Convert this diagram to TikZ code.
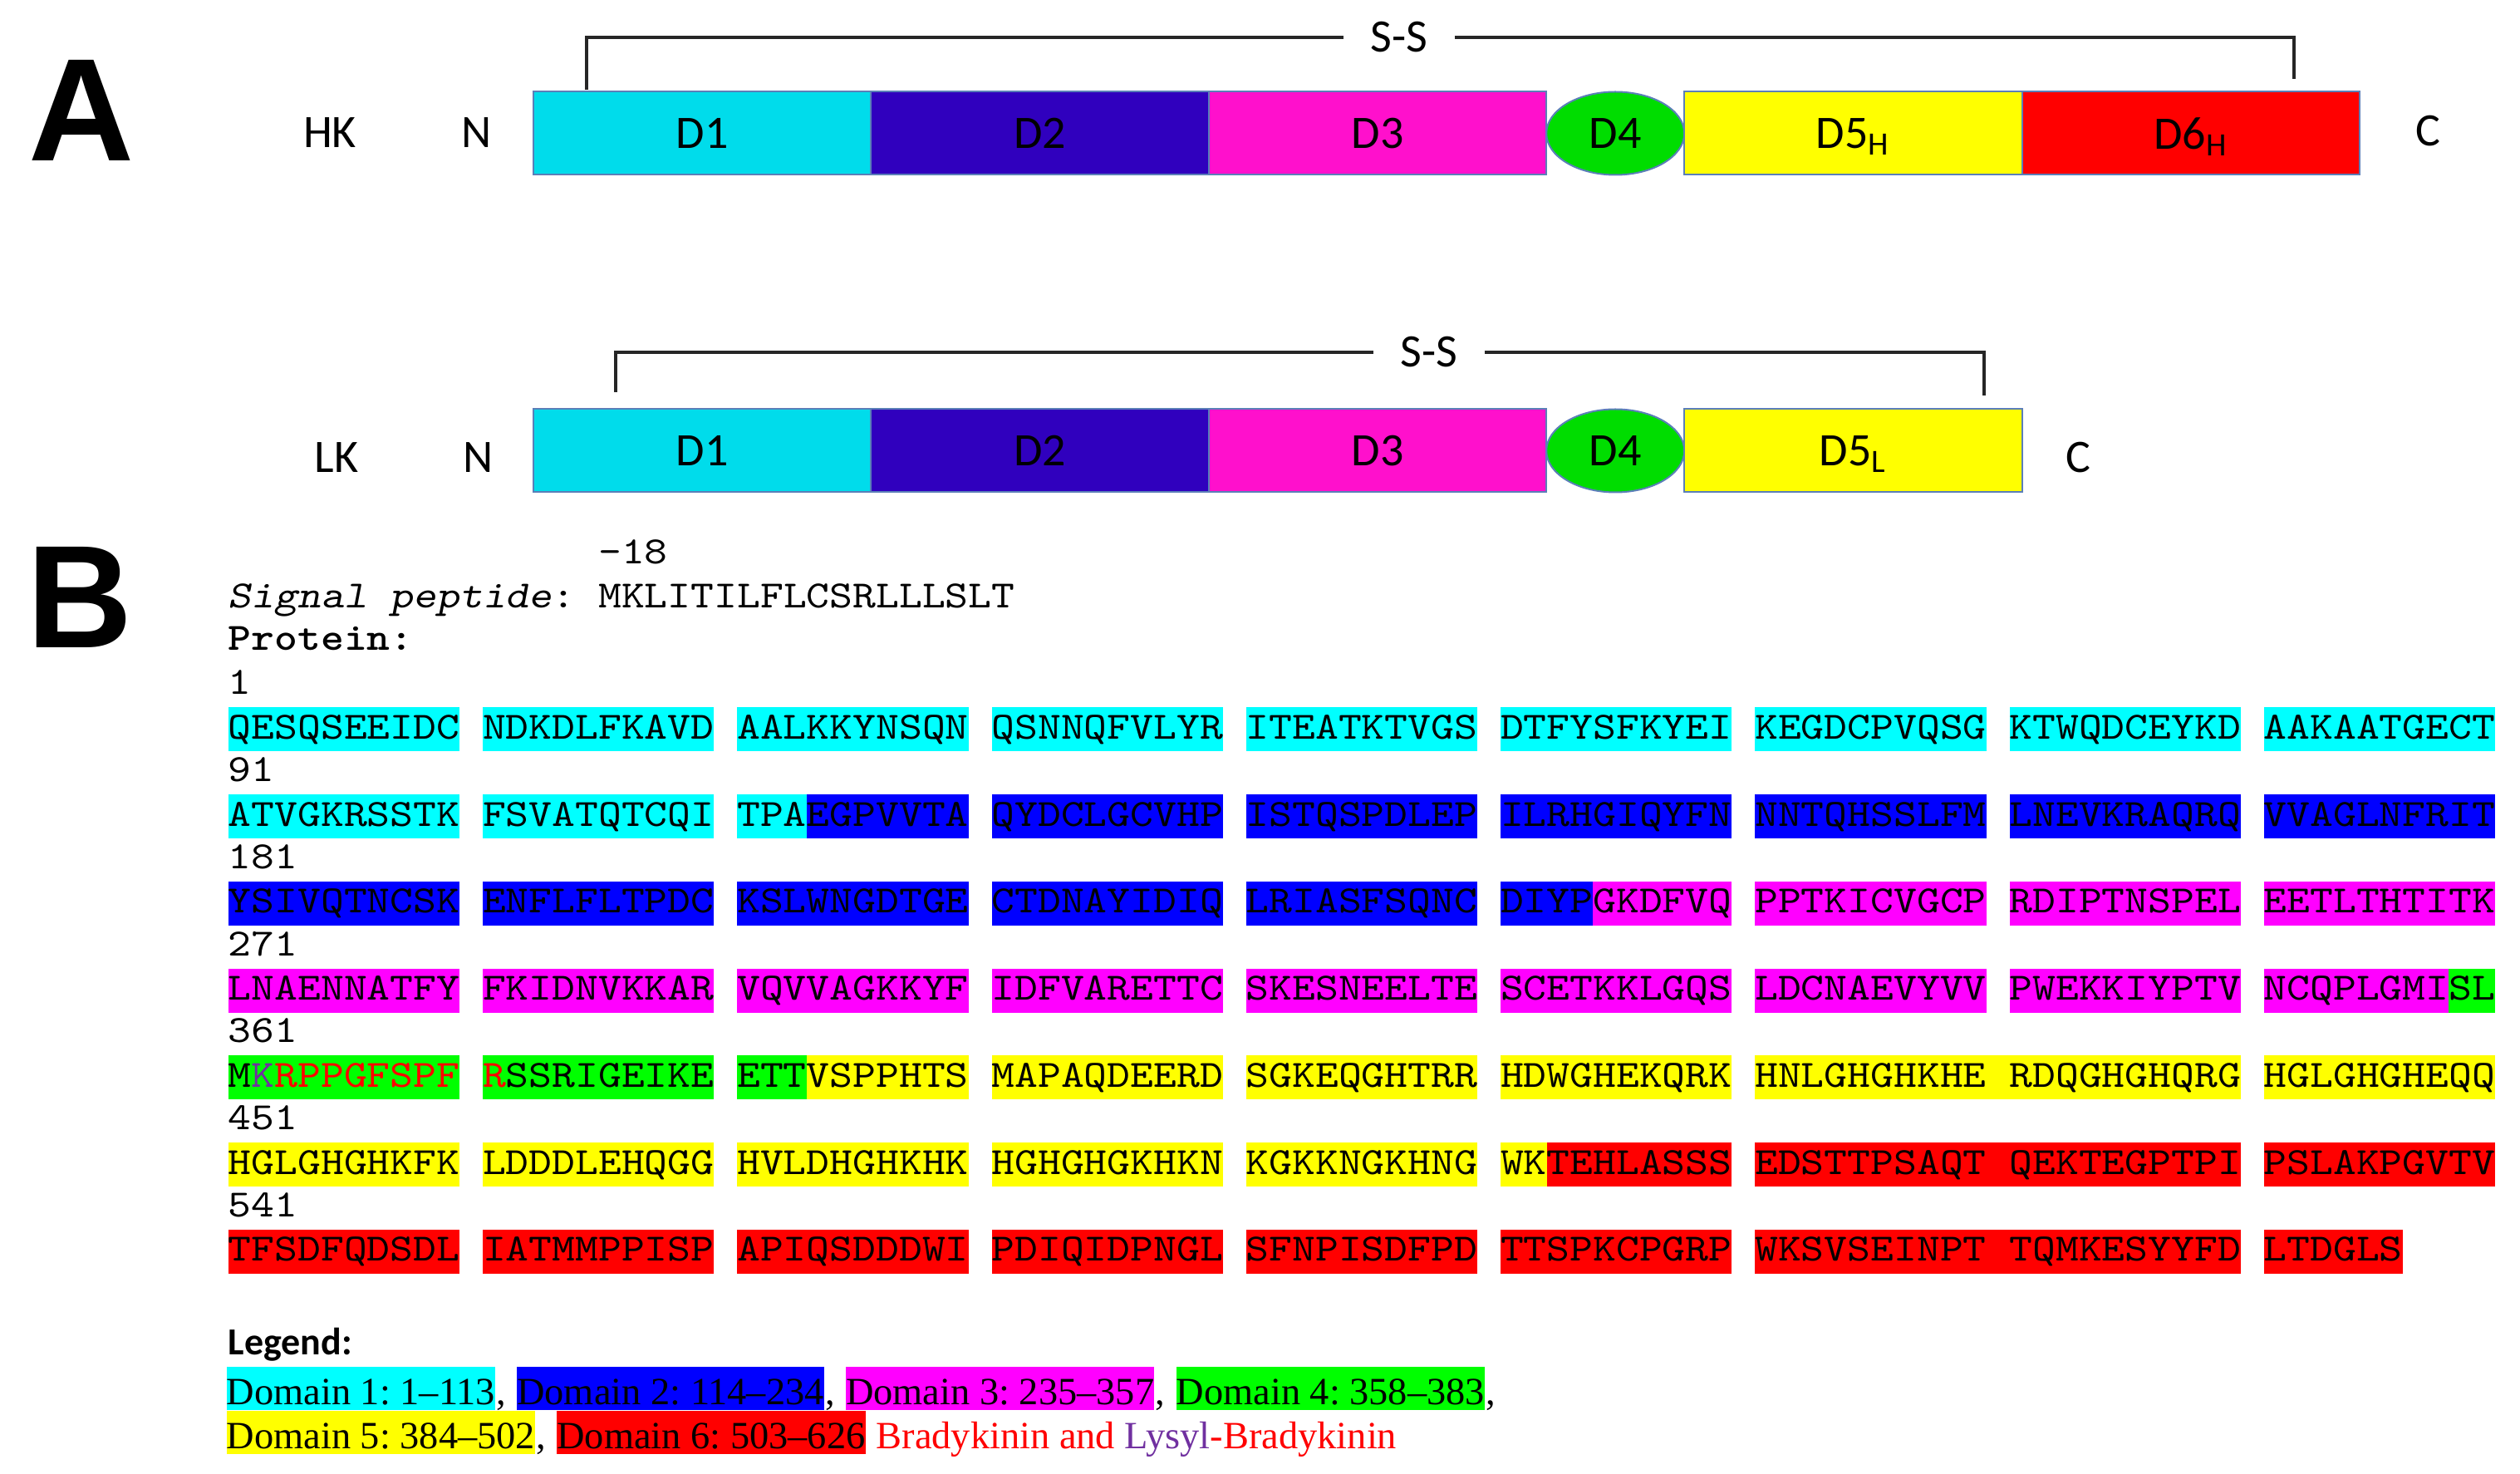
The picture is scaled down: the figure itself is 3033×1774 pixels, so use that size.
\documentclass[tikz,border=0pt]{standalone}
\usepackage{fontspec}
\setmainfont{Liberation Serif}
\newfontfamily\calfont{Carlito}
\newfontfamily\seqfam{lmmono10-regular.otf}[FakeStretch=1.143, ItalicFont=lmmonoslant10-regular.otf, BoldFont=lmmonolt10-bold.otf]
\newfontfamily\arialfam{Liberation Sans}
\usetikzlibrary{shapes.geometric}
\frenchspacing

\definecolor{aDa}{HTML}{00DCEB}
\definecolor{aDb}{HTML}{3000BE}
\definecolor{aDc}{HTML}{FF10CC}
\definecolor{aDd}{HTML}{00DD00}
\definecolor{aDe}{HTML}{FFFF00}
\definecolor{aDf}{HTML}{FF0000}
\definecolor{aEdge}{HTML}{5B7FB8}
\definecolor{hC}{HTML}{00FFFF}
\definecolor{hB}{HTML}{0000FF}
\definecolor{hM}{HTML}{FF00FF}
\definecolor{hG}{HTML}{00FF00}
\definecolor{hY}{HTML}{FFFF00}
\definecolor{hR}{HTML}{FF0000}
\definecolor{bk}{HTML}{FF0000}
\definecolor{lys}{HTML}{7030A0}

\tikzset{
  bigletter/.style={anchor=base west, inner sep=0pt, font=\arialfam\bfseries\fontsize{44}{50}\selectfont},
  lab/.style={inner sep=0pt, font=\calfont\fontsize{14}{16}\selectfont},
  domrect/.style={draw=aEdge, line width=0.5pt, rectangle, minimum width=101.6pt, minimum height=25pt, inner sep=0pt, outer sep=0pt, anchor=west, font=\calfont\fontsize{14}{16}\selectfont},
  domell/.style={draw=aEdge, line width=0.5pt, ellipse, fill=aDd, minimum width=41.5pt, minimum height=25pt, inner sep=0pt, outer sep=0pt, anchor=west, font=\calfont\fontsize{14}{16}\selectfont},
  sslab/.style={inner ysep=0pt, inner xsep=8pt, font=\calfont\fontsize{14}{16}\selectfont},
  brk/.style={line width=0.8pt, draw=black!85},
  seqtxt/.style={anchor=base west, inner sep=0pt, font=\seqfam\fontsize{11.6}{13}\selectfont},
  seqbox/.style={seqtxt, text height=9.5pt, text depth=3.75pt},
  legtitle/.style={anchor=base west, inner sep=0pt, font=\calfont\bfseries\fontsize{11.5}{13}\selectfont},
  legtxt/.style={anchor=base west, inner sep=0pt, font=\fontsize{11.6}{13}\selectfont},
  legbox/.style={legtxt, text height=11.25pt, text depth=1.75pt},
}

\newcommand\sq[4]{\node[seqbox,fill=#3] (q#1c#2) at ({274+#2*27.84},{889.5+#1*104.7}) {#4};}
\newcommand\sqnum[2]{\node[seqtxt] (n#1) at (274,{836+#1*104.7}) {#2};}

\begin{document}
\begin{tikzpicture}[x=0.25pt,y=-0.25pt]
\useasboundingbox (0,0) rectangle (3033,1774);
\fill[white] (0,0) rectangle (3033,1774);

% ---------------- Part A ----------------
\node[bigletter] (letA) at (34,194) {A};

% HK
\node[lab] (hk) at (397,160) {HK};
\node[lab] (hkN) at (574,160) {N};
\node[domrect, fill=aDa] (hd1) at (642,160.5) {D1};
\node[domrect, fill=aDb] (hd2) at (hd1.east) {D2};
\node[domrect, fill=aDc] (hd3) at (hd2.east) {D3};
\node[domell] (hd4) at (hd3.east) {D4};
\node[domrect, fill=aDe] (hd5) at (hd4.east) {D5\smash{\textsubscript{H}}};
\node[domrect, fill=aDf] (hd6) at (hd5.east) {D6\smash{\textsubscript{H}}};
\node[lab] (hkC) at (2922,158) {C};
\coordinate (hkL) at (706,108);
\coordinate (hkR) at (2761,95);
\node[sslab] (hkss) at (1684,45) {S-S};
\draw[brk] (hkL) |- (hkss.west);
\draw[brk] (hkss.east) -| (hkR);

% LK
\node[lab] (lk) at (405,551) {LK};
\node[lab] (lkN) at (576,551) {N};
\node[domrect, fill=aDa] (ld1) at (642,542.5) {D1};
\node[domrect, fill=aDb] (ld2) at (ld1.east) {D2};
\node[domrect, fill=aDc] (ld3) at (ld2.east) {D3};
\node[domell] (ld4) at (ld3.east) {D4};
\node[domrect, fill=aDe] (ld5) at (ld4.east) {D5\smash{\textsubscript{L}}};
\node[lab] (lkC) at (2501,551) {C};
\coordinate (lkL) at (741,472);
\coordinate (lkR) at (2388,476);
\node[sslab] (lkss) at (1720,424) {S-S};
\draw[brk] (lkL) |- (lkss.west);
\draw[brk] (lkss.east) -| (lkR);

% ---------------- Part B ----------------
\node[bigletter] (letB) at (32,780) {B};

\node[seqtxt] (m18) at ({274+16*27.84},679) {-18};
\node[seqtxt] (sig) at (274,732) {{\itshape Signal peptide}: MKLITILFLCSRLLLSLT};
\node[seqtxt] (prot) at (274,783) {\bfseries Protein:};

% row 0
\sqnum{0}{1}
\sq{0}{0}{hC}{QESQSEEIDC}
\sq{0}{11}{hC}{NDKDLFKAVD}
\sq{0}{22}{hC}{AALKKYNSQN}
\sq{0}{33}{hC}{QSNNQFVLYR}
\sq{0}{44}{hC}{ITEATKTVGS}
\sq{0}{55}{hC}{DTFYSFKYEI}
\sq{0}{66}{hC}{KEGDCPVQSG}
\sq{0}{77}{hC}{KTWQDCEYKD}
\sq{0}{88}{hC}{AAKAATGECT}
% row 1
\sqnum{1}{91}
\sq{1}{0}{hC}{ATVGKRSSTK}
\sq{1}{11}{hC}{FSVATQTCQI}
\sq{1}{22}{hC}{TPA}
\sq{1}{25}{hB}{EGPVVTA}
\sq{1}{33}{hB}{QYDCLGCVHP}
\sq{1}{44}{hB}{ISTQSPDLEP}
\sq{1}{55}{hB}{ILRHGIQYFN}
\sq{1}{66}{hB}{NNTQHSSLFM}
\sq{1}{77}{hB}{LNEVKRAQRQ}
\sq{1}{88}{hB}{VVAGLNFRIT}
% row 2
\sqnum{2}{181}
\sq{2}{0}{hB}{YSIVQTNCSK}
\sq{2}{11}{hB}{ENFLFLTPDC}
\sq{2}{22}{hB}{KSLWNGDTGE}
\sq{2}{33}{hB}{CTDNAYIDIQ}
\sq{2}{44}{hB}{LRIASFSQNC}
\sq{2}{55}{hB}{DIYP}
\sq{2}{59}{hM}{GKDFVQ}
\sq{2}{66}{hM}{PPTKICVGCP}
\sq{2}{77}{hM}{RDIPTNSPEL}
\sq{2}{88}{hM}{EETLTHTITK}
% row 3
\sqnum{3}{271}
\sq{3}{0}{hM}{LNAENNATFY}
\sq{3}{11}{hM}{FKIDNVKKAR}
\sq{3}{22}{hM}{VQVVAGKKYF}
\sq{3}{33}{hM}{IDFVARETTC}
\sq{3}{44}{hM}{SKESNEELTE}
\sq{3}{55}{hM}{SCETKKLGQS}
\sq{3}{66}{hM}{LDCNAEVYVV}
\sq{3}{77}{hM}{PWEKKIYPTV}
\sq{3}{88}{hM}{NCQPLGMI}
\sq{3}{96}{hG}{SL}
% row 4
\sqnum{4}{361}
\sq{4}{0}{hG}{M\textcolor{lys}{K}\textcolor{bk}{RPPGFSPF}}
\sq{4}{11}{hG}{\textcolor{bk}{R}SSRIGEIKE}
\sq{4}{22}{hG}{ETT}
\sq{4}{25}{hY}{VSPPHTS}
\sq{4}{33}{hY}{MAPAQDEERD}
\sq{4}{44}{hY}{SGKEQGHTRR}
\sq{4}{55}{hY}{HDWGHEKQRK}
\sq{4}{66}{hY}{HNLGHGHKHE RDQGHGHQRG}
\sq{4}{88}{hY}{HGLGHGHEQQ}
% row 5
\sqnum{5}{451}
\sq{5}{0}{hY}{HGLGHGHKFK}
\sq{5}{11}{hY}{LDDDLEHQGG}
\sq{5}{22}{hY}{HVLDHGHKHK}
\sq{5}{33}{hY}{HGHGHGKHKN}
\sq{5}{44}{hY}{KGKKNGKHNG}
\sq{5}{55}{hY}{WK}
\sq{5}{57}{hR}{TEHLASSS}
\sq{5}{66}{hR}{EDSTTPSAQT QEKTEGPTPI}
\sq{5}{88}{hR}{PSLAKPGVTV}
% row 6
\sqnum{6}{541}
\sq{6}{0}{hR}{TFSDFQDSDL}
\sq{6}{11}{hR}{IATMMPPISP}
\sq{6}{22}{hR}{APIQSDDDWI}
\sq{6}{33}{hR}{PDIQIDPNGL}
\sq{6}{44}{hR}{SFNPISDFPD}
\sq{6}{55}{hR}{TTSPKCPGRP}
\sq{6}{66}{hR}{WKSVSEINPT TQMKESYYFD}
\sq{6}{88}{hR}{LTDGLS}

% ---------------- Legend ----------------
\node[legtitle] (lgd) at (274,1630) {Legend:};
\node[legbox, fill=hC] (L1) at (272,1690) {Domain 1: 1\textendash 113};
\node[legtxt] (k1) at (L1.base east) {,};
\node[legbox, fill=hB] (L2) at ([xshift=2.9pt]k1.base east) {Domain 2: 114\textendash 234};
\node[legtxt] (k2) at (L2.base east) {,};
\node[legbox, fill=hM] (L3) at ([xshift=2.9pt]k2.base east) {Domain 3: 235\textendash 357};
\node[legtxt] (k3) at (L3.base east) {,};
\node[legbox, fill=hG] (L4) at ([xshift=2.9pt]k3.base east) {Domain 4: 358\textendash 383};
\node[legtxt] (k4) at (L4.base east) {,};
\node[legbox, fill=hY] (L5) at (272,1743) {Domain 5: 384\textendash 502};
\node[legtxt] (k5) at (L5.base east) {,};
\node[legbox, fill=hR] (L6) at ([xshift=2.9pt]k5.base east) {Domain 6: 503\textendash 626};
\node[legtxt] (bkin) at ([xshift=2.9pt]L6.base east) {\textcolor{bk}{Bradykinin and} \textcolor{lys}{Lysyl}\textcolor{bk}{-Bradykinin}};
\end{tikzpicture}
\end{document}
